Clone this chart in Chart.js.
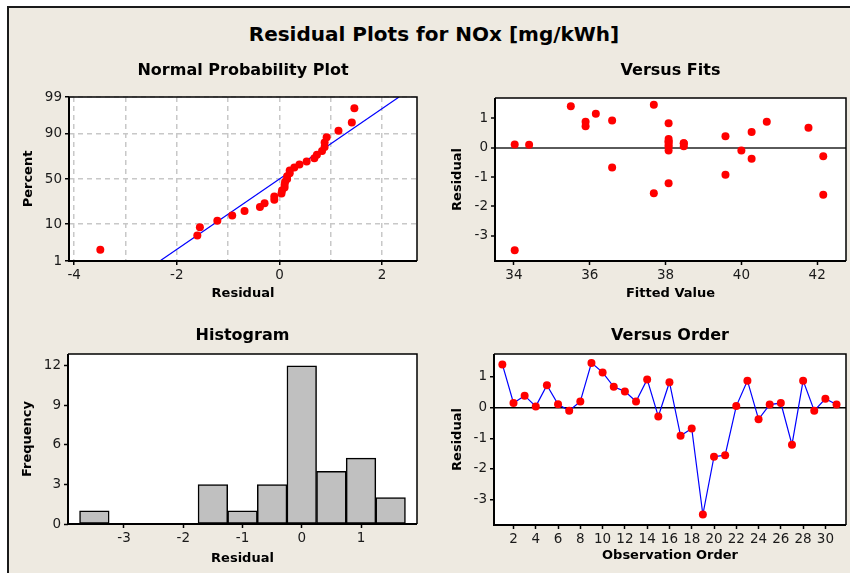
<!DOCTYPE html>
<html>
<head>
<meta charset="utf-8">
<title>Residual Plots for NOx</title>
<script src="https://cdn.jsdelivr.net/npm/chart.js@4.4.1/dist/chart.umd.min.js"></script>
<style>
  body { margin: 0; width: 850px; height: 573px; background: #fff; overflow: hidden; position: relative; font-family: "DejaVu Sans", sans-serif; }
  #frame { position: absolute; left: 7px; top: 6px; right: 0; bottom: 0; background: #eeeae1; border-left: 2px solid #1a1a1a; border-top: 2px solid #1a1a1a; }
  #mainTitle { position: absolute; left: 0; top: 24px; width: 868px; text-align: center; font-weight: bold; font-size: 20px; line-height: 20px; color: #000; }
  canvas { position: absolute; }
</style>
</head>
<body>
<div id="frame"></div>
<div id="mainTitle">Residual Plots for NOx [mg/kWh]</div>
<canvas id="probChart" width="415" height="265" style="left:10px;top:50px"></canvas>
<canvas id="fitsChart" width="420" height="265" style="left:430px;top:50px"></canvas>
<canvas id="histChart" width="415" height="255" style="left:10px;top:318px"></canvas>
<canvas id="orderChart" width="420" height="255" style="left:430px;top:318px"></canvas>
<script>
// residuals in observation order
var order = [1, 2, 3, 4, 5, 6, 7, 8, 9, 10, 11, 12, 13, 14, 15, 16, 17, 18, 19, 20, 21, 22, 23, 24, 25, 26, 27, 28, 29, 30, 31];
var residuals = [1.41, 0.15, 0.39, 0.04, 0.73, 0.11, -0.10, 0.20, 1.46, 1.15, 0.68, 0.53, 0.20, 0.92, -0.29, 0.83,
                 -0.92, -0.68, -3.49, -1.60, -1.55, 0.05, 0.88, -0.38, 0.10, 0.15, -1.21, 0.88, -0.10, 0.29, 0.10];
var fitted = [35.50, 38.48, 39.58, 38.08, 35.89, 34.02, 38.08, 38.08, 37.69, 36.16, 41.77, 40.27, 38.08, 36.59, 42.16, 38.08,
              39.58, 36.59, 34.02, 42.16, 37.69, 38.48, 35.89, 40.27, 34.40, 38.48, 38.08, 40.67, 40.00, 38.08, 38.08];

// histogram bins (width 0.5)
var binMids = [-3.5, -3, -2.5, -2, -1.5, -1, -0.5, 0, 0.5, 1, 1.5];
var binCounts = [1, 0, 0, 0, 3, 1, 3, 12, 4, 5, 2];

// fitted normal line of the probability plot
var fitLinePct = [1, 99];
var fitLineX = [-2.33, 2.33];

// tick labels
var probTicks = [1, 10, 50, 90, 99];
var npResidTicks = [-4, -3, -2, -1, 0, 1, 2];
var fitsTicks = [34, 36, 38, 40, 42];
var residTicks = [-3, -2, -1, 0, 1];
var histXTicks = [-3, -2, -1, 0, 1];
var histYTicks = [0, 3, 6, 9, 12];
var orderTicks = [2, 4, 6, 8, 10, 12, 14, 16, 18, 20, 22, 24, 26, 28, 30];

// inverse normal cdf (Acklam)
function probit(p) {
    var a = [-3.969683028665376e+01, 2.209460984245205e+02, -2.759285104469687e+02, 1.383577518672690e+02, -3.066479806614716e+01, 2.506628277459239e+00];
    var b = [-5.447609879822406e+01, 1.615858368580409e+02, -1.556989798598866e+02, 6.680131188771972e+01, -1.328068155288572e+01];
    var c = [-7.784894002430293e-03, -3.223964580411365e-01, -2.400758277161838e+00, -2.549732539343734e+00, 4.374664141464968e+00, 2.938163982698783e+00];
    var d = [7.784695709041462e-03, 3.224671290700398e-01, 2.445134137142996e+00, 3.754408661907416e+00];
    var q, r;
    if (p < 0.02425) {
        q = Math.sqrt(-2 * Math.log(p));
        return (((((c[0]*q+c[1])*q+c[2])*q+c[3])*q+c[4])*q+c[5]) / ((((d[0]*q+d[1])*q+d[2])*q+d[3])*q+1);
    }
    if (p <= 1 - 0.02425) {
        q = p - 0.5; r = q * q;
        return (((((a[0]*r+a[1])*r+a[2])*r+a[3])*r+a[4])*r+a[5])*q / (((((b[0]*r+b[1])*r+b[2])*r+b[3])*r+b[4])*r+1);
    }
    q = Math.sqrt(-2 * Math.log(1 - p));
    return -(((((c[0]*q+c[1])*q+c[2])*q+c[3])*q+c[4])*q+c[5]) / ((((d[0]*q+d[1])*q+d[2])*q+d[3])*q+1);
}

Chart.defaults.font.family = '"DejaVu Sans", sans-serif';
Chart.defaults.font.size = 13.5;
Chart.defaults.color = '#1a1a1a';
Chart.defaults.animation = false;
Chart.defaults.plugins.legend.display = false;
Chart.defaults.plugins.tooltip.enabled = false;

// white plot area, black frame and panel title
Chart.register({
    id: 'panelDecor',
    beforeDraw: function(chart) {
        var a = chart.chartArea, ctx = chart.ctx;
        ctx.save();
        ctx.fillStyle = '#fff';
        ctx.fillRect(a.left, a.top, a.right - a.left, a.bottom - a.top);
        ctx.restore();
    },
    afterDraw: function(chart, args, opts) {
        var a = chart.chartArea, ctx = chart.ctx;
        ctx.save();
        ctx.strokeStyle = '#000';
        ctx.lineWidth = 1.5;
        ctx.beginPath();
        ctx.moveTo(a.left, a.top); ctx.lineTo(a.right, a.top); ctx.lineTo(a.right, a.bottom);
        ctx.stroke();
        ctx.lineWidth = 2;
        ctx.beginPath();
        ctx.moveTo(a.left, a.top); ctx.lineTo(a.left, a.bottom); ctx.lineTo(a.right, a.bottom);
        ctx.stroke();
        if (opts.text) {
            ctx.fillStyle = '#000';
            ctx.font = 'bold 16px "DejaVu Sans", sans-serif';
            ctx.textAlign = 'center';
            ctx.textBaseline = 'middle';
            ctx.fillText(opts.text, (a.left + a.right) / 2, opts.y);
        }
        ctx.restore();
    }
});

function box(size) {
    return function(scale) {
        if (scale.isHorizontal()) scale.height = size; else scale.width = size;
    };
}
function tickList(vals) {
    return function(scale) {
        scale.ticks = vals.map(function(v) { return {value: v}; });
    };
}
function axisTitle(text, pad) {
    return {display: true, text: text, color: '#000', font: {size: 13, weight: 'bold'}, padding: pad};
}
function zeroLine(color) {
    return function(c) { return c.tick && c.tick.value === 0 ? color : 'rgba(0,0,0,0)'; };
}

// ---------- Normal Probability Plot ----------
var sortedResid = residuals.slice().sort(function(a, b) { return a - b; });
var probPoints = sortedResid.map(function(r, i) {
    return {x: r, y: probit((i + 1 - 0.3) / (residuals.length + 0.4))};
});
var fitPoints = fitLineX.map(function(x, i) { return {x: x, y: probit(fitLinePct[i] / 100)}; });

new Chart(document.getElementById('probChart'), {
    type: 'scatter',
    data: {
        datasets: [
            {data: probPoints, pointRadius: 4, pointBackgroundColor: '#ff0000', pointBorderWidth: 0, order: 1},
            {data: fitPoints, showLine: true, borderColor: '#0000ff', borderWidth: 1.2, pointRadius: 0, order: 2}
        ]
    },
    options: {
        responsive: false,
        layout: {autoPadding: false, padding: {left: 0, top: 47, right: 8, bottom: 0}},
        plugins: {panelDecor: {text: 'Normal Probability Plot', y: 21}},
        scales: {
            x: {
                type: 'linear', min: -4.1, max: 2.68,
                afterFit: box(54), afterBuildTicks: tickList(npResidTicks),
                ticks: {padding: 2, maxRotation: 0, autoSkip: false,
                        callback: function(v) { return v % 2 === 0 ? String(v) : ''; }},
                grid: {color: '#c8c8c8', lineWidth: 1.5, tickLength: 4, tickWidth: 1.5,
                       tickColor: function(c) { return c.tick && c.tick.value % 2 === 0 ? '#000' : 'rgba(0,0,0,0)'; }},
                border: {display: false, dash: [5, 4]},
                title: axisTitle('Residual', {top: 0, bottom: 13.2})
            },
            y: {
                type: 'linear', min: probit(0.01), max: probit(0.99),
                afterFit: box(59),
                afterBuildTicks: function(s) {
                    s.ticks = probTicks.map(function(p) { return {value: probit(p / 100)}; });
                },
                ticks: {padding: 3, callback: function(v, i) { return String(probTicks[i]); }},
                grid: {color: '#c8c8c8', lineWidth: 1.5, tickLength: 4, tickWidth: 1.5, tickColor: '#000'},
                border: {display: false, dash: [5, 4]},
                title: axisTitle('Percent', {top: 11.2, bottom: 0})
            }
        }
    }
});

// ---------- Versus Fits ----------
var fitsPoints = fitted.map(function(f, i) { return {x: f, y: residuals[i]}; });

new Chart(document.getElementById('fitsChart'), {
    type: 'scatter',
    data: {datasets: [{data: fitsPoints, pointRadius: 4, pointBackgroundColor: '#ff0000', pointBorderWidth: 0}]},
    options: {
        responsive: false,
        layout: {autoPadding: false, padding: {left: 0, top: 48, right: 4, bottom: 0}},
        plugins: {panelDecor: {text: 'Versus Fits', y: 21}},
        scales: {
            x: {
                type: 'linear', min: 33.5, max: 42.76,
                afterFit: box(54), afterBuildTicks: tickList(fitsTicks),
                ticks: {padding: 2, maxRotation: 0, autoSkip: false},
                grid: {drawOnChartArea: false, tickLength: 4, tickWidth: 1.5, tickColor: '#000'},
                border: {display: false},
                title: axisTitle('Fitted Value', {top: 0, bottom: 13.2})
            },
            y: {
                type: 'linear', min: -3.86, max: 1.69,
                afterFit: box(65), afterBuildTicks: tickList(residTicks),
                ticks: {padding: 3},
                grid: {color: zeroLine('#5a5a5a'), lineWidth: 2, tickLength: 4, tickWidth: 1.5, tickColor: '#000'},
                border: {display: false},
                title: axisTitle('Residual', {top: 20.2, bottom: 0})
            }
        }
    }
});

// ---------- Histogram ----------
var histData = binMids.map(function(m, i) { return {x: m, y: binCounts[i]}; });

new Chart(document.getElementById('histChart'), {
    type: 'bar',
    data: {
        datasets: [{
            data: histData, backgroundColor: '#c0c0c0', borderColor: '#000', borderWidth: 1.5,
            borderSkipped: false, barPercentage: 1, categoryPercentage: 1
        }]
    },
    options: {
        responsive: false,
        layout: {autoPadding: false, padding: {left: 0, top: 36, right: 8, bottom: 0}},
        plugins: {panelDecor: {text: 'Histogram', y: 18}},
        scales: {
            x: {
                type: 'linear', min: -3.945, max: 1.945, offset: false,
                afterFit: box(49), afterBuildTicks: tickList(histXTicks),
                ticks: {padding: 2, maxRotation: 0, autoSkip: false},
                grid: {offset: false, drawOnChartArea: false, tickLength: 4, tickWidth: 1.5, tickColor: '#000'},
                border: {display: false},
                title: axisTitle('Residual', {top: 0, bottom: 6.2})
            },
            y: {
                type: 'linear', min: 0, max: 12.9,
                afterFit: box(58), afterBuildTicks: tickList(histYTicks),
                ticks: {padding: 3},
                grid: {drawOnChartArea: false, tickLength: 4, tickWidth: 1.5, tickColor: '#000'},
                border: {display: false},
                title: axisTitle('Frequency', {top: 10.2, bottom: 0})
            }
        }
    }
});

// ---------- Versus Order ----------
var orderPoints = order.map(function(o, i) { return {x: o, y: residuals[i]}; });

new Chart(document.getElementById('orderChart'), {
    type: 'scatter',
    data: {
        datasets: [{
            data: orderPoints, showLine: true, borderColor: '#0000ff', borderWidth: 1.2,
            pointRadius: 4, pointBackgroundColor: '#ff0000', pointBorderWidth: 0
        }]
    },
    options: {
        responsive: false,
        layout: {autoPadding: false, padding: {left: 0, top: 36, right: 4, bottom: 0}},
        plugins: {panelDecor: {text: 'Versus Order', y: 18}},
        scales: {
            x: {
                type: 'linear', min: 0.25, max: 31.85,
                afterFit: box(48), afterBuildTicks: tickList(orderTicks),
                ticks: {padding: 2, maxRotation: 0, autoSkip: false},
                grid: {drawOnChartArea: false, tickLength: 4, tickWidth: 1.5, tickColor: '#000'},
                border: {display: false},
                title: axisTitle('Observation Order', {top: 0, bottom: 9.2})
            },
            y: {
                type: 'linear', min: -3.83, max: 1.75,
                afterFit: box(64), afterBuildTicks: tickList(residTicks),
                ticks: {padding: 3},
                grid: {color: zeroLine('#000'), lineWidth: 1.5, tickLength: 4, tickWidth: 1.5, tickColor: '#000'},
                border: {display: false},
                title: axisTitle('Residual', {top: 20.2, bottom: 0})
            }
        }
    }
});
</script>
</body>
</html>
